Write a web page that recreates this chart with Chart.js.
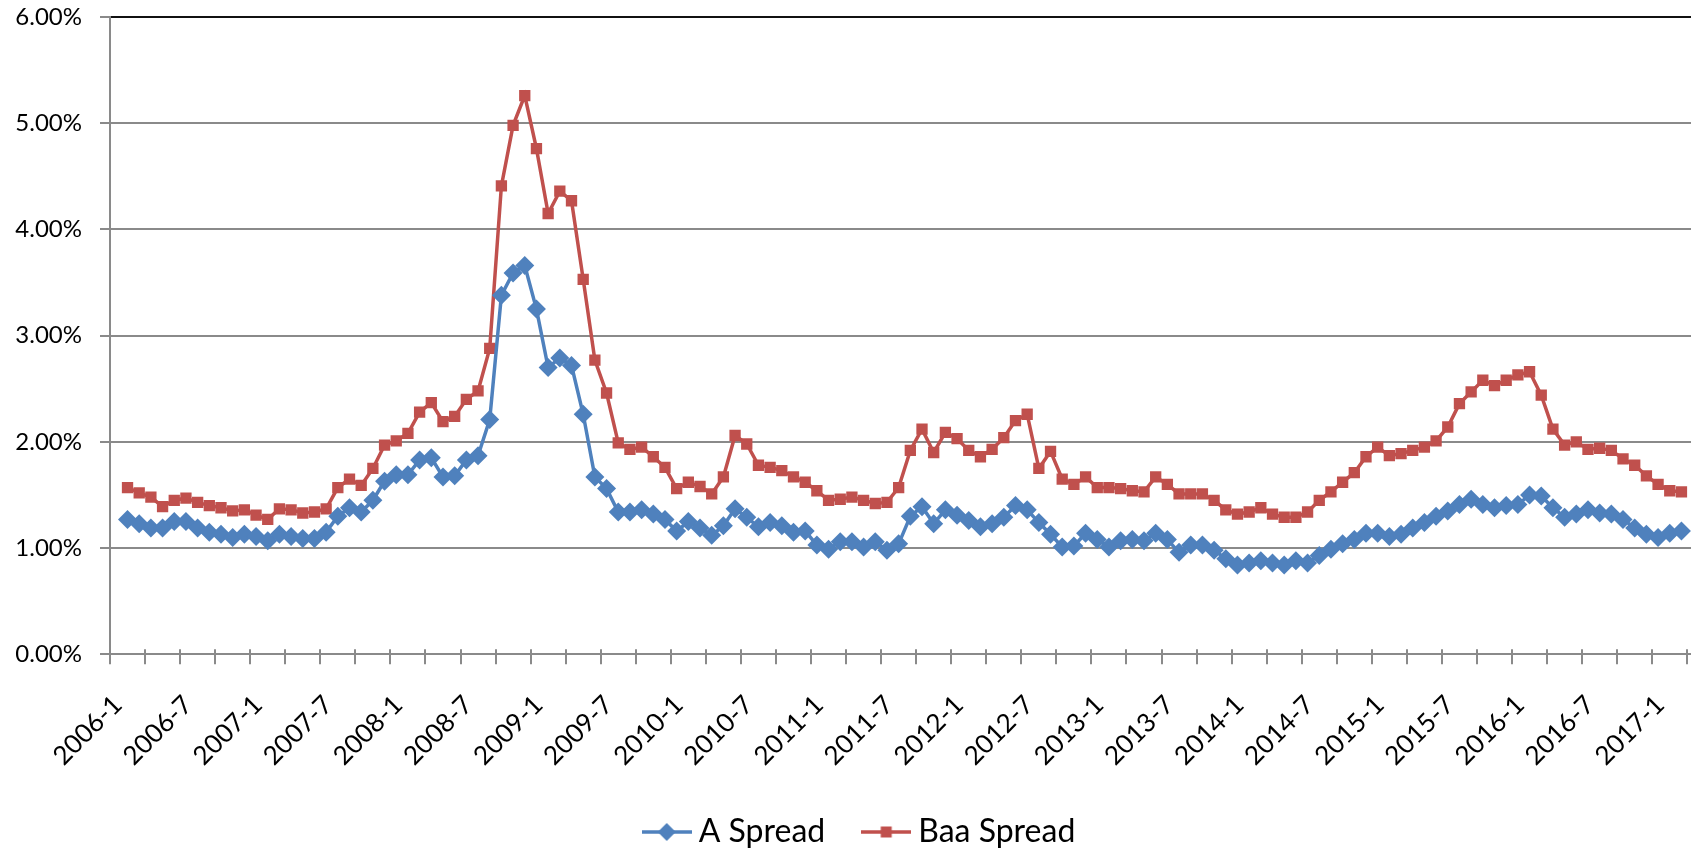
<!DOCTYPE html>
<html>
<head>
<meta charset="utf-8">
<title>A and Baa Spreads</title>
<script src="https://cdn.jsdelivr.net/npm/chart.js@4.4.1/dist/chart.umd.min.js"></script>
<style>
  html, body { margin: 0; padding: 0; background: #fff; overflow: hidden; }
  #wrap { position: relative; width: 1691px; height: 852px; overflow: hidden; background: #fff; }
  #c { display: block; }
</style>
</head>
<body>
<div id="wrap"><canvas id="c" width="1726" height="858"></canvas></div>
<script>
// Monthly categories, 2006-1 through 2017-3
const firstYear = 2006;
const monthCount = 135;
const months = [];
for (let k = 0; k < monthCount; k++) {
  months.push((firstYear + Math.floor(k / 12)) + '-' + (k % 12 + 1));
}

// Labelled categories on the time axis
const tickLabels = [
  '2006-1', '2006-7', '2007-1', '2007-7', '2008-1', '2008-7', '2009-1', '2009-7',
  '2010-1', '2010-7', '2011-1', '2011-7', '2012-1', '2012-7', '2013-1', '2013-7',
  '2014-1', '2014-7', '2015-1', '2015-7', '2016-1', '2016-7', '2017-1'
];

// Value axis labels (percent)
const yTicks = [0, 1, 2, 3, 4, 5, 6];

// Spread over Treasuries, in percent
const aSpread = [null,
  1.27, 1.23, 1.19, 1.19, 1.25, 1.25, 1.19, 1.15, 1.13, 1.10, 1.13,
  1.11, 1.07, 1.13, 1.11, 1.09, 1.09, 1.15, 1.30, 1.38, 1.34, 1.45, 1.63,
  1.69, 1.69, 1.83, 1.85, 1.67, 1.68, 1.83, 1.87, 2.21, 3.38, 3.59, 3.66,
  3.25, 2.70, 2.79, 2.72, 2.26, 1.67, 1.56, 1.34, 1.34, 1.36, 1.32, 1.27,
  1.16, 1.25, 1.19, 1.12, 1.21, 1.37, 1.29, 1.20, 1.24, 1.21, 1.15, 1.16,
  1.03, 0.99, 1.06, 1.06, 1.01, 1.06, 0.98, 1.04, 1.30, 1.39, 1.23, 1.36,
  1.31, 1.26, 1.20, 1.23, 1.29, 1.40, 1.36, 1.24, 1.13, 1.01, 1.02, 1.14,
  1.08, 1.01, 1.07, 1.08, 1.07, 1.14, 1.08, 0.96, 1.03, 1.03, 0.98, 0.90,
  0.84, 0.86, 0.88, 0.86, 0.84, 0.88, 0.86, 0.93, 0.99, 1.04, 1.08, 1.14,
  1.14, 1.11, 1.13, 1.19, 1.24, 1.30, 1.35, 1.41, 1.46, 1.41, 1.38, 1.40,
  1.41, 1.50, 1.49, 1.38, 1.29, 1.32, 1.36, 1.33, 1.32, 1.27, 1.19, 1.13,
  1.10, 1.14, 1.16
];

const baaSpread = [null,
  1.57, 1.52, 1.48, 1.39, 1.45, 1.47, 1.43, 1.40, 1.38, 1.35, 1.36,
  1.31, 1.27, 1.37, 1.36, 1.33, 1.34, 1.37, 1.57, 1.65, 1.59, 1.75, 1.97,
  2.01, 2.08, 2.28, 2.37, 2.19, 2.24, 2.40, 2.48, 2.88, 4.41, 4.98, 5.26,
  4.76, 4.15, 4.36, 4.27, 3.53, 2.77, 2.46, 1.99, 1.93, 1.95, 1.86, 1.76,
  1.56, 1.62, 1.58, 1.51, 1.67, 2.06, 1.98, 1.78, 1.76, 1.73, 1.67, 1.62,
  1.54, 1.45, 1.46, 1.48, 1.45, 1.42, 1.43, 1.57, 1.92, 2.12, 1.90, 2.09,
  2.03, 1.92, 1.86, 1.93, 2.04, 2.20, 2.26, 1.75, 1.91, 1.65, 1.60, 1.67,
  1.57, 1.57, 1.56, 1.54, 1.53, 1.67, 1.60, 1.51, 1.51, 1.51, 1.45, 1.36,
  1.32, 1.34, 1.38, 1.32, 1.29, 1.29, 1.34, 1.45, 1.53, 1.62, 1.71, 1.86,
  1.95, 1.87, 1.89, 1.92, 1.95, 2.01, 2.14, 2.36, 2.47, 2.58, 2.53, 2.58,
  2.63, 2.66, 2.44, 2.12, 1.97, 2.00, 1.93, 1.94, 1.92, 1.84, 1.78, 1.68,
  1.60, 1.54, 1.53
];

// ---- styling ----
const BLUE = '#4F81BD';
const RED = '#C0504D';
const GRID = '#8a8a8a';
const FONT = 'Lato';
const TICK_EVERY = 3;        // months between axis tick marks

function legendIcon(color, shape) {
  const c = document.createElement('canvas');
  c.width = 50; c.height = 22;
  const g = c.getContext('2d');
  g.strokeStyle = color; g.lineWidth = 3.5;
  g.beginPath(); g.moveTo(0, 11); g.lineTo(50, 11); g.stroke();
  g.fillStyle = color; g.beginPath();
  if (shape === 'diamond') {
    g.moveTo(16, 11); g.lineTo(25, 2); g.lineTo(34, 11); g.lineTo(25, 20);
  } else {
    g.rect(19.5, 5.5, 11, 11);
  }
  g.closePath(); g.fill();
  return c;
}

// Short tick stubs above the time axis so the marks cross it
const crossTicks = {
  id: 'crossTicks',
  beforeDatasetsDraw(chart) {
    const xs = chart.scales.x, ctx = chart.ctx, b = chart.chartArea.bottom;
    ctx.save();
    ctx.strokeStyle = GRID; ctx.lineWidth = 2;
    xs.ticks.forEach(t => {
      if (!t.boundary) return;
      const px = Math.round(xs.getPixelForValue(t.value));
      ctx.beginPath(); ctx.moveTo(px, b - 5); ctx.lineTo(px, b); ctx.stroke();
    });
    ctx.restore();
  }
};

function draw() {
  const icons = [legendIcon(BLUE, 'diamond'), legendIcon(RED, 'square')];
  new Chart(document.getElementById('c'), {
    type: 'line',
    data: {
      datasets: [
        {
          label: 'A Spread',
          data: aSpread.map((v, i) => ({ x: i, y: v })),
          borderColor: BLUE, backgroundColor: BLUE,
          borderWidth: 3.5, tension: 0,
          pointStyle: 'rectRot', pointRadius: 9.5, pointBorderWidth: 0,
          pointBackgroundColor: BLUE
        },
        {
          label: 'Baa Spread',
          data: baaSpread.map((v, i) => ({ x: i, y: v })),
          borderColor: RED, backgroundColor: RED,
          borderWidth: 3.5, tension: 0,
          pointStyle: 'rect', pointRadius: 8, pointBorderWidth: 0,
          pointBackgroundColor: RED
        }
      ]
    },
    options: {
      responsive: false,
      animation: false,
      devicePixelRatio: 1,
      layout: { padding: { top: 17, left: 0, right: 0, bottom: 0 } },
      plugins: {
        tooltip: { enabled: false },
        legend: {
          position: 'bottom',
          labels: {
            usePointStyle: true,
            pointStyleWidth: 32,
            padding: 45,
            color: '#000',
            font: { family: FONT, size: 32 },
            generateLabels: chart => chart.data.datasets.map((ds, i) => ({
              text: ds.label,
              pointStyle: icons[i],
              fillStyle: 'rgba(0,0,0,0)',
              strokeStyle: 'rgba(0,0,0,0)',
              lineWidth: 0,
              hidden: false,
              fontColor: '#000',
              datasetIndex: i
            }))
          }
        }
      },
      scales: {
        x: {
          type: 'linear',
          bounds: 'data',
          min: -0.5,
          max: 137.0,
          afterBuildTicks(scale) {
            const t = [];
            for (let v = -0.5; v <= scale.max; v += TICK_EVERY) t.push({ value: v, boundary: true, text: '' });
            tickLabels.forEach(l => t.push({ value: months.indexOf(l), boundary: false, text: l }));
            t.sort((a, b) => a.value - b.value);
            scale.ticks = t;
          },
          afterFit(scale) {
            scale.height = 116.7;
            scale.paddingLeft = 0;
            scale.paddingRight = 0;
          },
          grid: {
            drawOnChartArea: false,
            drawTicks: true,
            tickLength: 10,
            lineWidth: 2,
            tickColor: c => (c.tick && c.tick.boundary) ? GRID : 'rgba(0,0,0,0)',
            color: 'rgba(0,0,0,0)'
          },
          border: { display: true, color: GRID, width: 2 },
          ticks: {
            autoSkip: false,
            minRotation: 45,
            maxRotation: 45,
            padding: 25,
            labelOffset: 2,
            color: '#000',
            font: { family: FONT, size: 26 },
            callback: (v, i, ticks) => ticks[i].text || ''
          }
        },
        y: {
          min: yTicks[0],
          max: yTicks[yTicks.length - 1],
          afterFit(scale) {
            scale.width = 110;
            scale.paddingTop = 0;
            scale.paddingBottom = 0;
          },
          afterBuildTicks(scale) { scale.ticks = yTicks.map(v => ({ value: v })); },
          grid: {
            lineWidth: 2,
            tickLength: 10,
            color: c => (c.tick && c.tick.value === 6) ? '#111' : GRID,
            tickColor: GRID
          },
          border: { display: true, color: GRID, width: 2 },
          ticks: {
            padding: 18,
            color: '#000',
            font: { family: FONT, size: 24 },
            callback: v => v.toFixed(2) + '%'
          }
        }
      }
    },
    plugins: [crossTicks]
  });
}

if (document.fonts && document.fonts.load) {
  Promise.all([document.fonts.load('24px Lato'), document.fonts.load('32px Lato')]).then(draw, draw);
} else {
  draw();
}
</script>
</body>
</html>
